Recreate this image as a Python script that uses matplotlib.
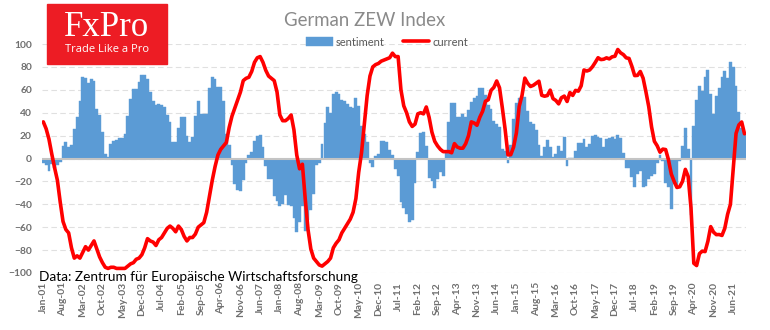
import matplotlib.pyplot as plt
import numpy as np
import pandas as pd
from matplotlib.patches import Rectangle

plt.rcParams['font.family'] = ['Lato', 'DejaVu Sans']

# monthly ZEW readings, Jan 2001 .. Oct 2021
months = pd.date_range('2001-01-01', periods=250, freq='MS')
month_labels = [m.strftime('%b-%y') for m in months]

sentiment = [
    -4, -6, -11, -5, -8, -6, -3, 11, 14, 10, 12, 26,                       # 2001
    36, 50, 71, 70, 66, 69, 68, 43, 38, 23, 4, 1,                          # 2002
    13, 15, 16, 18, 18, 21, 37, 52, 61, 61, 67, 73,                        # 2003
    73, 69, 58, 50, 47, 48, 47, 45, 38, 32, 14, 14,                        # 2004
    27, 36, 36, 20, 14, 19, 37, 50, 38.6, 39.3, 38.7, 61.6,                # 2005
    71.0, 69.8, 62.5, 62.7, 50.0, 21.8, 12.0, -5.6, -22.2, -27.4, -28.2, -19.0,
    -3.6, 3.1, 5.8, 15.3, 20.0, 20.3, 10.4, -6.9, -18.1, -18.1, -32.5, -37.2,
    -41.6, -39.5, -32.0, -40.7, -41.4, -52.4, -63.9, -55.5, -41.1, -63.0, -53.5, -45.2,
    -31.0, -5.8, -3.5, 13.0, 31.1, 44.8, 39.5, 56.1, 57.7, 56.0, 51.1, 50.4,
    47.2, 45.1, 44.5, 53.0, 45.8, 28.7, 21.2, 14.0, -4.3, -7.2, 1.8, 4.3,
    15.4, 15.7, 14.1, 7.6, 3.1, -9.0, -15.1, -37.6, -43.3, -48.3, -55.2, -53.8,
    -21.6, 5.4, 22.3, 23.4, 10.8, -16.9, -19.6, -25.5, -18.2, -11.5, -15.7, 6.9,
    31.5, 48.2, 48.5, 36.3, 36.4, 38.5, 36.3, 42.0, 49.6, 52.8, 54.6, 62.0,
    61.7, 55.7, 46.6, 43.2, 33.1, 29.8, 27.1, 8.6, 6.9, -3.6, 11.5, 34.9,
    48.4, 53.0, 54.8, 53.3, 41.9, 31.5, 29.7, 25.0, 12.1, 1.9, 10.4, 16.1,
    10.2, 1.0, 4.3, 11.2, 6.4, 19.2, -6.8, 0.5, 0.5, 6.2, 13.8, 13.8,
    16.6, 10.4, 12.8, 19.5, 20.6, 18.6, 17.5, 10.0, 17.0, 17.6, 18.7, 17.4,
    20.4, 17.8, 5.1, -8.2, -8.2, -16.1, -24.7, -13.7, -10.6, -24.7, -24.1, -17.5,
    -15.0, -13.4, -3.6, 3.1, -2.1, -21.1, -24.5, -44.1, -22.5, -22.8, -2.1, 10.7,
    26.7, 8.7, -49.5, 28.2, 51.0, 63.4, 59.3, 71.5, 77.4, 56.1, 39.0, 55.0,
    61.8, 71.2, 76.6, 70.7, 84.4, 79.8, 63.3, 40.4, 26.5, 22.3,            # 2021
]

current = [
    32, 26, 17, 4, -8, -19, -38, -55, -62, -65, -78, -87,                  # 2001
    -85, -87, -82, -77, -80, -76, -72, -79, -86, -91, -95, -96,            # 2002
    -95, -95, -96, -96, -96, -96, -94, -92, -91, -88, -87, -84,            # 2003
    -78, -70, -72, -73, -76, -71, -69, -65, -61, -59, -61, -64,            # 2004
    -59, -62, -68, -72, -69, -69, -66, -60, -58, -56, -47, -33,            # 2005
    -19, -7, 3, 8, 11, 14, 27, 37, 44, 51, 58, 68,                         # 2006
    70, 71, 76, 84, 88, 89, 84, 77, 72, 70, 68, 58,                        # 2007
    38, 33, 33, 35, 38, 25, 3, -9, -5, -35, -62, -79,                      # 2008
    -87, -90, -93, -94, -92, -90, -87, -78, -74, -71, -65, -61,            # 2009
    -57, -53, -47, -35, -12, 5, 30, 55, 72, 80, 82, 83,                    # 2010
    85, 86, 87, 88, 92, 89, 89, 60, 46, 40, 32, 28,                        # 2011
    30, 39, 40, 39, 45, 36, 23, 15, 11, 8, 6, 6,                           # 2012
    6, 5, 13, 10, 9, 9, 13, 20, 32, 31, 29, 36,                            # 2013
    41.2, 50.0, 51.3, 59.5, 62.1, 67.7, 61.8, 44.3, 25.4, 3.2, 3.3, 10.0,
    22.4, 45.5, 55.1, 70.2, 65.7, 62.9, 63.9, 65.7, 67.5, 55.2, 54.4, 55.0,
    59.7, 52.3, 50.7, 47.7, 53.1, 54.5, 49.8, 57.6, 55.1, 59.5, 58.8, 63.5,
    77.3, 76.4, 77.3, 80.1, 83.9, 88.0, 86.4, 86.7, 87.9, 87.0, 88.8, 89.3,
    95.2, 92.3, 90.7, 87.9, 87.4, 80.6, 72.4, 72.6, 76.0, 70.1, 58.2, 45.3,
    27.6, 15.0, 11.1, 5.5, 8.2, 7.8, -1.1, -13.5, -19.9, -25.3, -24.7, -19.9,
    -9.5, -15.7, -43.1, -91.5, -93.5, -83.1, -80.9, -81.3, -72.3, -59.5, -64.3, -66.5,
    -66.4, -67.2, -61.0, -48.8, -40.1, -9.1, 21.9, 29.3, 31.9, 21.6,       # 2021
]

W, H = 770, 330
fig = plt.figure(figsize=(W / 100, H / 100), dpi=100)
ax = fig.add_axes([41.9 / W, 1 - 273 / H, 704 / W, 229 / H])

x = np.arange(len(months))
bars = ax.bar(x, sentiment, width=1.0, color='#5b9bd5', edgecolor='#5b9bd5',
              linewidth=0.3, label='sentiment', zorder=2)
ax.axhline(0, color='#c4c4c4', lw=1.5, zorder=3)
line, = ax.plot(x, current, color='#ff0000', lw=2.6, label='current', zorder=4,
                solid_joinstyle='round', solid_capstyle='round')

ax.set_xlim(-0.5, len(x) - 0.5)
ax.set_ylim(-100, 100)
ax.set_yticks(range(-100, 101, 20))
ax.yaxis.grid(True, color='#e0e0e0', ls=(0, (5, 3)), lw=0.8)
ax.set_axisbelow(True)
for s in ax.spines.values():
    s.set_visible(False)

ax.set_xticks(x[::7])
ax.set_xticklabels(month_labels[::7], rotation=90)
ax.tick_params(length=0, labelsize=7.4, labelcolor='#6f6f6f')
ax.tick_params(axis='y', pad=7.2)
ax.tick_params(axis='x', pad=6.5)
for lbl in ax.get_xticklabels() + ax.get_yticklabels():
    lbl.set_fontweight('bold')

fig.text(365 / W, 1 - 20 / H, 'German ZEW Index', fontsize=13.4,
         color='#8a8a8a', ha='center', va='center')

leg = fig.legend([bars, line], ['sentiment', 'current'], loc='center',
                 bbox_to_anchor=(0.503, 1 - 42 / H), ncol=2,
                 frameon=False, fontsize=8, handlelength=2.4, handleheight=0.8,
                 handletextpad=0.3, columnspacing=1.6)
for t in leg.get_texts():
    t.set_color('#595959')

# logo block
fig.add_artist(Rectangle((47 / W, 1 - 64 / H), 120 / W, 60 / H,
                         transform=fig.transFigure, color='#ed1c24', zorder=5))
fig.text(107 / W, 1 - 36.5 / H, 'FxPro', family='Liberation Serif',
         fontsize=25, color='white', ha='center', va='baseline', zorder=6)
fig.text(107 / W, 1 - 52.5 / H, 'Trade Like a Pro', family='Open Sans',
         fontsize=8, color='white', ha='center', va='baseline', zorder=6)

fig.text(39 / W, 1 - 281 / H, 'Data: Zentrum für Europäische Wirtschaftsforschung',
         fontsize=9.8, color='black', ha='left', va='baseline', zorder=6)

fig.savefig('out.png', dpi=100)
